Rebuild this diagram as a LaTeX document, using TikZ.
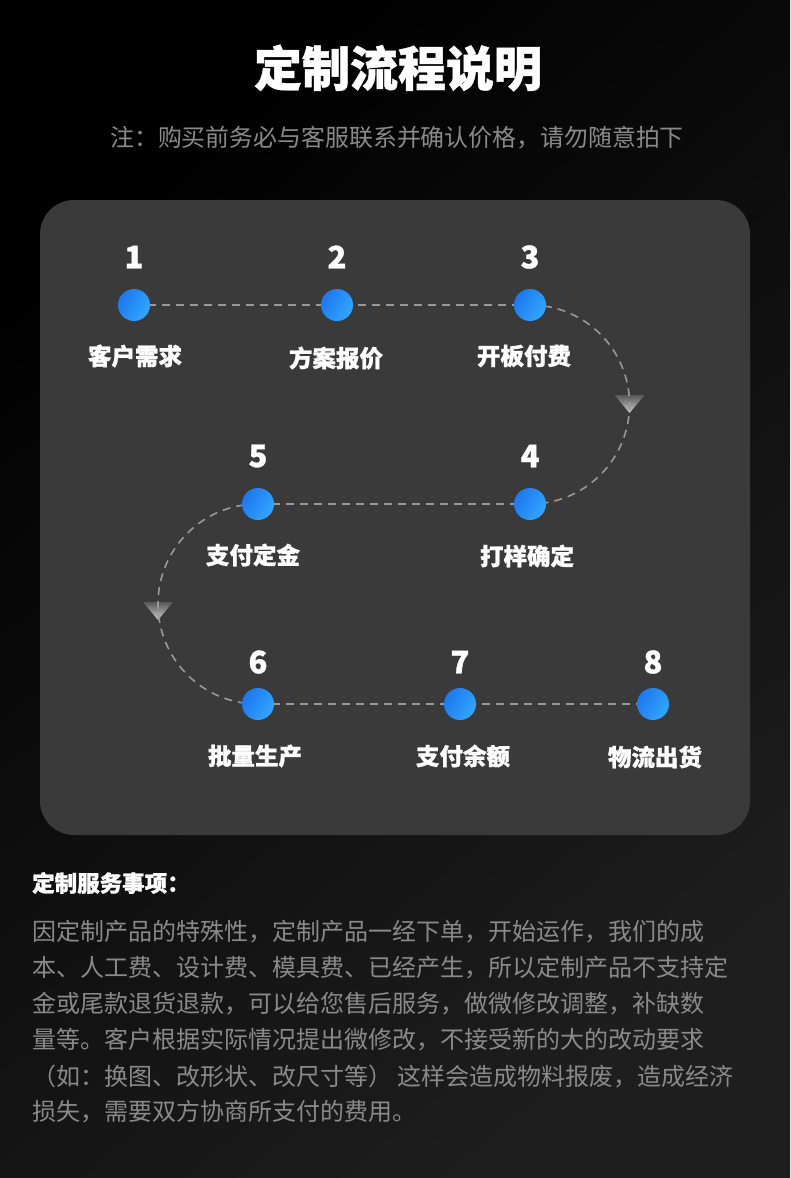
\documentclass[tikz,border=0pt]{standalone}
\usepackage{fontspec}
\setmainfont{Noto Sans CJK SC}[BoldFeatures={FakeBold=1}]
\definecolor{panel}{HTML}{3A3A3A}
\definecolor{dashc}{HTML}{999999}
\definecolor{subgray}{HTML}{8A8A8A}
\definecolor{blueA}{HTML}{1C78EE}
\definecolor{blueB}{HTML}{32A6FF}
\definecolor{bgB}{HTML}{1E1E1E}
\begin{document}
\begin{tikzpicture}[x=1pt,y=-1pt,
  dot/.style={circle,minimum size=32pt,inner sep=0pt,left color=blueA,right color=blueB,shading angle=60},
  num/.style={font=\bfseries\fontsize{31}{31}\selectfont,text=white,inner sep=0pt},
  lab/.style={font=\bfseries\fontsize{23.5}{23.5}\selectfont,text=white,inner sep=0pt},
  flow/.style={draw=dashc,line width=1.6pt,dash pattern=on 8pt off 6pt},
  para/.style={font=\fontsize{24}{24}\selectfont,text=subgray,anchor=west,inner sep=0pt},
  tip/.style={top color=panel!85!white,bottom color=white!80!black}]
\useasboundingbox (0,0) rectangle (790,1178);
\shade[top color=black,bottom color=bgB,shading angle=40] (0,0) rectangle (790,1178);
\fill[panel] (40,200) [rounded corners=34pt] rectangle (750,835);

% titles
\node[font=\bfseries\fontsize{48}{48}\selectfont,text=white,inner sep=0pt] (title) at (398,68) {定制流程说明};
\node[font=\fontsize{23.9}{23.9}\selectfont,text=subgray,inner sep=0pt] (sub) at (397,138) {注：购买前务必与客服联系并确认价格，请勿随意拍下};

% step positions
\coordinate (p1) at (134,305);
\coordinate (p2) at (337,305);
\coordinate (p3) at (530,305);
\coordinate (p4) at (530,504);
\coordinate (p5) at (258,504);
\coordinate (p6) at (258,704);
\coordinate (p7) at (460,704);
\coordinate (p8) at (653,704);

% arrow tips on the arcs
\coordinate (a1) at (629.5,395);
\coordinate (a2) at (158,602);
\shade[tip] (a1) ++(-15,0) -- ++(30,0) -- ++(-15,18) -- cycle;
\shade[tip] (a2) ++(-15,0) -- ++(30,0) -- ++(-15,18) -- cycle;

% connectors
\draw[flow] (p1) -- (p2) -- (p3);
\draw[flow] (p3) arc[start angle=-90,end angle=90,radius=99.5];
\draw[flow] (p5) -- (p4);
\draw[flow] (p5) arc[start angle=270,end angle=90,radius=100];
\draw[flow] (p6) -- (p7) -- (p8);

% dots
\foreach \i in {1,...,8} \node[dot] (c\i) at (p\i) {};

% numbers
\node[num] (n1) at (134,257) {1};
\node[num] (n2) at (337,257) {2};
\node[num] (n3) at (530,257) {3};
\node[num] (n4) at (530,456) {4};
\node[num] (n5) at (258,456) {5};
\node[num] (n6) at (258,662) {6};
\node[num] (n7) at (460,662) {7};
\node[num] (n8) at (653,662) {8};

% labels
\node[lab] (l1) at (135,356) {客户需求};
\node[lab] (l2) at (336,358) {方案报价};
\node[lab] (l3) at (524,356) {开板付费};
\node[lab] (l4) at (527,556) {打样确定};
\node[lab] (l5) at (253,555) {支付定金};
\node[lab] (l6) at (255,756) {批量生产};
\node[lab] (l7) at (463,756) {支付余额};
\node[lab] (l8) at (655,757) {物流出货};

% notes
\node[font=\bfseries\fontsize{22.5}{22.5}\selectfont,text=white,anchor=west,inner sep=0pt] (h) at (32,883) {定制服务事项：};
\node[para] (t1) at (32,932) {因定制产品的特殊性，定制产品一经下单，开始运作，我们的成};
\node[para] (t2) at (32,968) {本、人工费、设计费、模具费、已经产生，所以定制产品不支持定};
\node[para] (t3) at (32,1004) {金或尾款退货退款，可以给您售后服务，做微修改调整，补缺数};
\node[para] (t4) at (32,1040) {量等。客户根据实际情况提出微修改，不接受新的大的改动要求};
\node[para] (t5) at (32,1076) {（如：换图、改形状、改尺寸等） 这样会造成物料报废，造成经济};
\node[para] (t6) at (32,1112) {损失，需要双方协商所支付的费用。};
\end{tikzpicture}
\end{document}
